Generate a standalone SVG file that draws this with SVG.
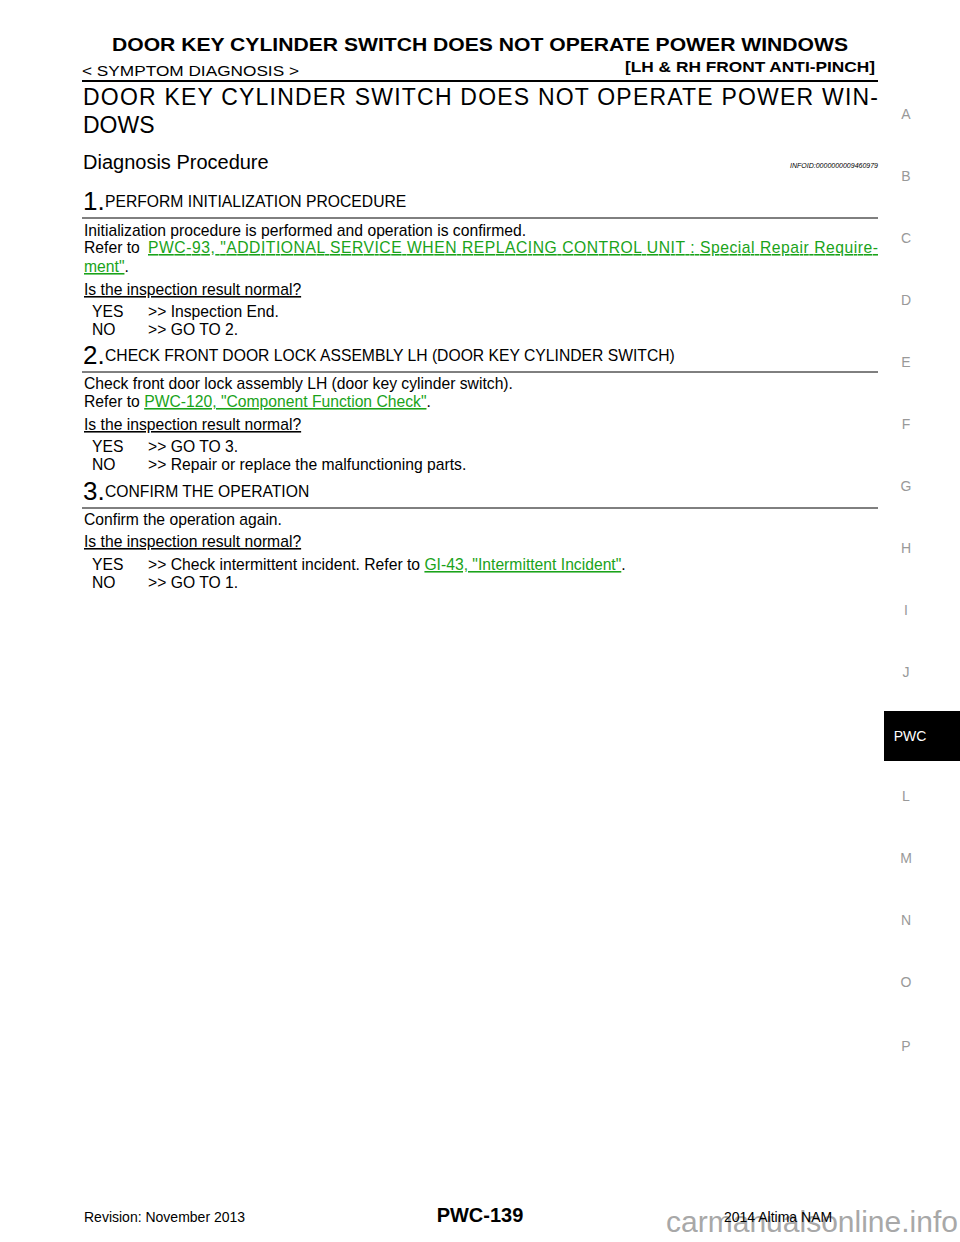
<svg xmlns="http://www.w3.org/2000/svg" width="960" height="1242" viewBox="0 0 960 1242">
<style>
text{font-family:"Liberation Sans",Arial,sans-serif;fill:#000}
.b{font-size:15.7px}
.lk{fill:#1aa31a;text-decoration:underline}
.u{text-decoration:underline}
.side{font-size:14px;fill:#999;text-anchor:middle}
.num{font-size:26px}
</style>
<rect width="960" height="1242" fill="#fff"/>
<text x="480" y="51" text-anchor="middle" font-size="19" font-weight="bold" textLength="736" lengthAdjust="spacingAndGlyphs">DOOR KEY CYLINDER SWITCH DOES NOT OPERATE POWER WINDOWS</text>
<text x="82" y="76" font-size="15" textLength="217" lengthAdjust="spacingAndGlyphs">&lt; SYMPTOM DIAGNOSIS &gt;</text>
<text x="875" y="72" text-anchor="end" font-size="15" font-weight="bold" textLength="250" lengthAdjust="spacingAndGlyphs">[LH &amp; RH FRONT ANTI-PINCH]</text>
<line x1="82" y1="81" x2="878" y2="81" stroke="#000" stroke-width="2"/>
<text x="83" y="105" font-size="23" textLength="795" lengthAdjust="spacing">DOOR KEY CYLINDER SWITCH DOES NOT OPERATE POWER WIN-</text>
<text x="83" y="133" font-size="23">DOWS</text>
<text x="83" y="169" font-size="20">Diagnosis Procedure</text>
<text x="878" y="168" text-anchor="end" font-size="7" font-style="italic">INFOID:0000000009460979</text>

<text x="83" y="210" class="num">1.</text><text x="105" y="207" class="b">PERFORM INITIALIZATION PROCEDURE</text>
<line x1="82" y1="218" x2="878" y2="218" stroke="#000"/>
<text x="84" y="236" class="b">Initialization procedure is performed and operation is confirmed.</text>
<text x="84" y="253" class="b">Refer to </text>
<text x="148" y="253" class="b lk" textLength="730" lengthAdjust="spacing">PWC-93, "ADDITIONAL SERVICE WHEN REPLACING CONTROL UNIT : Special Repair Require-</text>
<text x="84" y="272" class="b"><tspan class="lk">ment"</tspan>.</text>
<text x="84" y="295" class="b u">Is the inspection result normal?</text>
<text x="92" y="317" class="b">YES</text><text x="148" y="317" class="b">&gt;&gt; Inspection End.</text>
<text x="92" y="335" class="b">NO</text><text x="148" y="335" class="b">&gt;&gt; GO TO 2.</text>

<text x="83" y="364" class="num">2.</text><text x="105" y="361" class="b">CHECK FRONT DOOR LOCK ASSEMBLY LH (DOOR KEY CYLINDER SWITCH)</text>
<line x1="82" y1="372" x2="878" y2="372" stroke="#000"/>
<text x="84" y="389" class="b">Check front door lock assembly LH (door key cylinder switch).</text>
<text x="84" y="407" class="b">Refer to <tspan class="lk">PWC-120, "Component Function Check"</tspan>.</text>
<text x="84" y="430" class="b u">Is the inspection result normal?</text>
<text x="92" y="452" class="b">YES</text><text x="148" y="452" class="b">&gt;&gt; GO TO 3.</text>
<text x="92" y="470" class="b">NO</text><text x="148" y="470" class="b">&gt;&gt; Repair or replace the malfunctioning parts.</text>

<text x="83" y="500" class="num">3.</text><text x="105" y="497" class="b">CONFIRM THE OPERATION</text>
<line x1="82" y1="508" x2="878" y2="508" stroke="#000"/>
<text x="84" y="525" class="b">Confirm the operation again.</text>
<text x="84" y="547" class="b u">Is the inspection result normal?</text>
<text x="92" y="570" class="b">YES</text><text x="148" y="570" class="b">&gt;&gt; Check intermittent incident. Refer to <tspan class="lk">GI-43, "Intermittent Incident"</tspan>.</text>
<text x="92" y="588" class="b">NO</text><text x="148" y="588" class="b">&gt;&gt; GO TO 1.</text>

<g>
<text x="906" y="119" class="side">A</text><text x="906" y="181" class="side">B</text><text x="906" y="243" class="side">C</text><text x="906" y="305" class="side">D</text><text x="906" y="367" class="side">E</text><text x="906" y="429" class="side">F</text><text x="906" y="491" class="side">G</text><text x="906" y="553" class="side">H</text><text x="906" y="615" class="side">I</text><text x="906" y="677" class="side">J</text>
<rect x="884" y="711" width="76" height="50" fill="#000"/>
<text x="910" y="741" font-size="14" style="fill:#fff" text-anchor="middle">PWC</text>
<text x="906" y="801" class="side">L</text><text x="906" y="863" class="side">M</text><text x="906" y="925" class="side">N</text><text x="906" y="987" class="side">O</text><text x="906" y="1051" class="side">P</text>
</g>
<text x="84" y="1222" font-size="14">Revision: November 2013</text>
<text x="480" y="1222" text-anchor="middle" font-size="20" font-weight="bold">PWC-139</text>
<text x="812" y="1232" text-anchor="middle" font-size="30" style="fill:#a8a8a8">carmanualsonline.info</text>
<text x="724" y="1222" font-size="14">2014 Altima NAM</text>
</svg>
